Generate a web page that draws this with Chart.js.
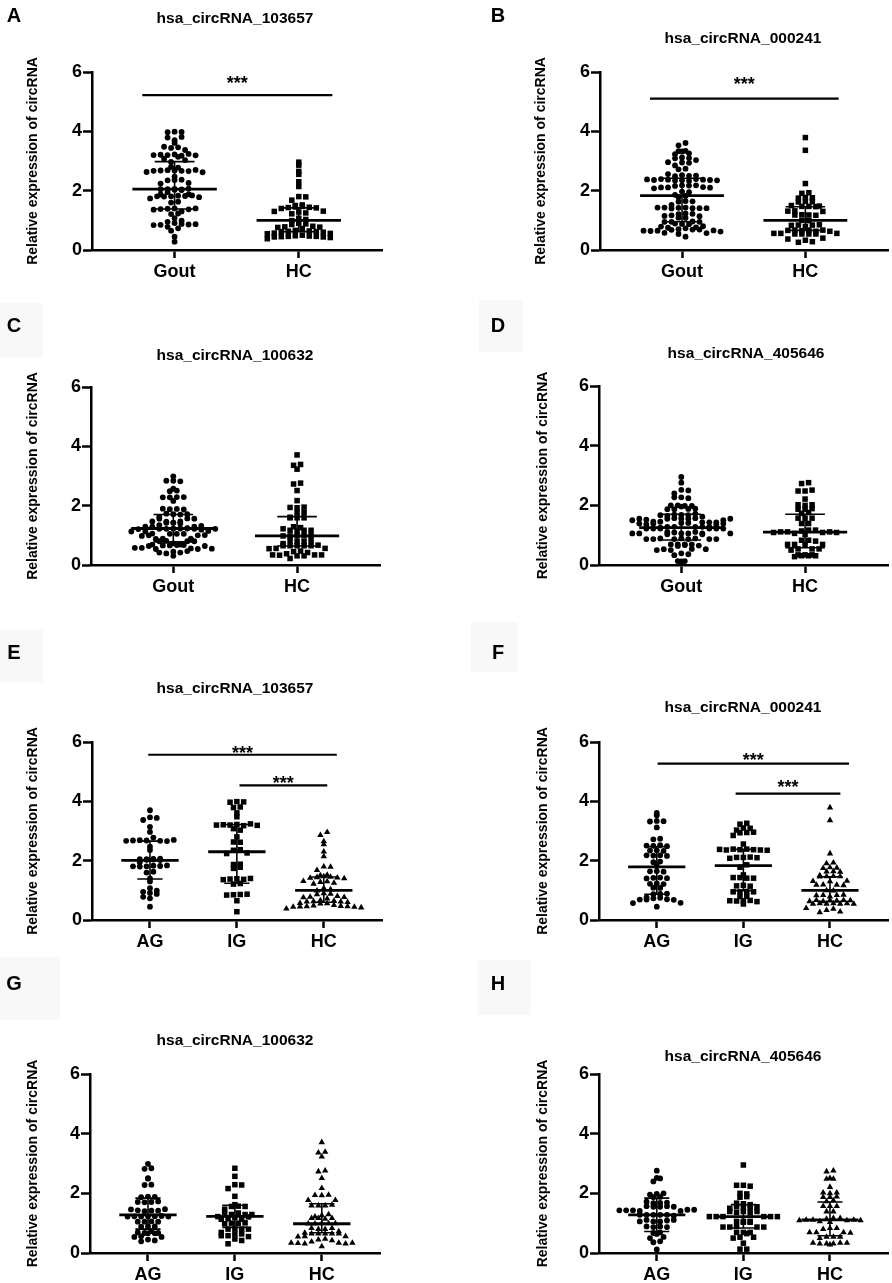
<!DOCTYPE html>
<html>
<head>
<meta charset="utf-8">
<script src="https://cdn.jsdelivr.net/npm/chart.js@4.4.1/dist/chart.umd.min.js"></script>
<style>
  body { margin: 0; background: #fff; width: 892px; height: 1283px; position: relative; overflow: hidden;
         font-family: "Liberation Sans", Arial, sans-serif; }
  canvas { position: absolute; }
  .box { position: absolute; background: #f8f8f8; }
  .letter, .ttl { position: absolute; transform: translate(-50%, -50%); font-weight: bold; line-height: 1; white-space: nowrap; color: #000; }
  .letter { font-size: 20px; }
  .ttl { font-size: 15.5px; }
</style>
</head>
<body>
<script>
const FONT = "'Liberation Sans', Arial, sans-serif";

const yLabel = "Relative expression of circRNA";
const twoGroups = ["Gout", "HC"];
const threeGroups = ["AG", "IG", "HC"];
const titles = ["hsa_circRNA_103657", "hsa_circRNA_000241", "hsa_circRNA_100632", "hsa_circRNA_405646"];

// hsa_circRNA_103657
const ag103657 = [3.70, 3.46, 3.44, 3.37, 3.14, 2.97, 2.78, 2.68, 2.67, 2.69, 2.66, 2.68, 2.70, 2.67, 2.47, 2.36,
  2.06, 2.04, 2.05, 2.07, 2.03, 2.05, 2.02, 1.95, 1.83, 1.81, 1.82, 1.80, 1.84, 1.81, 1.63, 1.60, 1.40, 1.30,
  1.07, 0.99, 0.95, 0.91, 0.88, 0.78, 0.73, 0.45];
const ig103657 = [3.99, 3.98, 3.97, 3.81, 3.79, 3.61, 3.48, 3.22, 3.18, 3.20, 3.24, 3.21, 3.19, 3.20, 3.03, 3.08,
  2.80, 2.62, 2.63, 2.37, 2.35, 2.26, 2.24, 1.88, 1.87, 1.78, 1.74, 1.39, 1.37, 1.38, 1.40, 1.36, 1.23, 1.21,
  0.86, 0.85, 0.87, 0.84, 0.65, 0.28];
const hc103657 = [2.96, 2.86, 2.65, 2.55, 2.30, 2.14, 1.80, 1.79, 1.68, 1.52, 1.50, 1.47, 1.45, 1.44, 1.43, 1.42,
  1.40, 1.31, 1.30, 1.28, 1.25, 1.22, 1.07, 1.03, 0.99, 0.90, 0.88, 0.86, 0.80, 0.78, 0.77, 0.76, 0.72, 0.66,
  0.64, 0.63, 0.62, 0.62, 0.60, 0.57, 0.56, 0.55, 0.50, 0.48, 0.47, 0.46, 0.46, 0.45, 0.44, 0.44, 0.42, 0.38];
const gout103657 = ag103657.concat(ig103657);

// hsa_circRNA_000241
const ag000241 = [3.61, 3.53, 3.34, 3.33, 3.32, 3.12, 2.74, 2.72, 2.52, 2.50, 2.49, 2.51, 2.35, 2.33, 2.34, 2.18,
  2.17, 2.16, 2.18, 1.97, 1.95, 1.82, 1.65, 1.63, 1.64, 1.43, 1.42, 1.41, 1.40, 1.23, 1.21, 1.22, 1.08, 1.09,
  0.88, 0.87, 0.89, 0.76, 0.75, 0.73, 0.70, 0.69, 0.68, 0.69, 0.58, 0.57, 0.45];
const ig000241 = [3.26, 3.23, 3.10, 3.09, 3.03, 2.95, 2.94, 2.96, 2.85, 2.56, 2.39, 2.37, 2.37, 2.39, 2.36, 2.36,
  2.35, 2.38, 2.11, 2.12, 2.11, 2.10, 2.08, 1.86, 1.78, 1.41, 1.43, 1.41, 1.52, 1.43, 1.17, 1.14, 1.15, 0.96,
  0.95, 0.95, 0.95, 0.80, 0.79, 0.65, 0.66, 0.64, 0.62, 0.65, 0.54];
const hc000241 = [3.79, 3.36, 2.24, 1.93, 1.91, 1.77, 1.76, 1.75, 1.64, 1.63, 1.62, 1.48, 1.47, 1.47, 1.50, 1.46,
  1.32, 1.30, 1.31, 1.18, 1.19, 1.17, 1.18, 0.99, 1.00, 0.79, 0.84, 0.84, 0.85, 0.83, 0.67, 0.65, 0.63, 0.67,
  0.67, 0.66, 0.63, 0.56, 0.54, 0.54, 0.56, 0.56, 0.54, 0.54, 0.40, 0.37, 0.33, 0.28, 0.26];
const gout000241 = ag000241.concat(ig000241);

// hsa_circRNA_100632
const ag100632 = [2.99, 2.84, 2.82, 2.51, 2.49, 2.29, 2.28, 1.89, 1.88, 1.87, 1.71, 1.70, 1.73, 1.71, 1.42, 1.40,
  1.42, 1.43, 1.47, 1.46, 1.23, 1.23, 1.22, 1.24, 1.23, 1.22, 1.22, 1.06, 1.05, 1.05, 1.05, 0.89, 0.89, 0.88,
  0.73, 0.67, 0.66, 0.67, 0.69, 0.66, 0.56, 0.54, 0.54, 0.45, 0.42, 0.39];
const ig100632 = [2.84, 2.57, 2.29, 2.28, 2.16, 1.90, 1.57, 1.56, 1.62, 1.56, 1.47, 1.34, 1.29, 1.29, 1.32, 1.29,
  1.19, 1.13, 1.15, 1.21, 1.22, 1.13, 1.00, 1.00, 1.01, 0.98, 0.81, 0.80, 0.80, 0.80, 0.64, 0.64, 0.69, 0.58,
  0.55, 0.58, 0.47, 0.42, 0.31];
const hc100632 = [3.71, 3.39, 3.36, 3.23, 2.76, 2.73, 2.51, 2.17, 1.93, 1.95, 1.94, 1.77, 1.77, 1.59, 1.59, 1.61,
  1.59, 1.26, 1.29, 1.14, 1.17, 1.17, 1.17, 1.22, 0.99, 0.99, 0.98, 0.99, 0.98, 0.80, 0.80, 0.83, 0.83, 0.72,
  0.65, 0.65, 0.65, 0.65, 0.65, 0.67, 0.56, 0.56, 0.55, 0.47, 0.45, 0.42, 0.38, 0.34, 0.31, 0.31, 0.33, 0.34,
  0.34, 0.22];
const gout100632 = ag100632.concat(ig100632);

// hsa_circRNA_405646
const ag405646 = [2.76, 2.52, 2.50, 2.40, 1.98, 2.00, 1.96, 1.88, 1.87, 1.68, 1.67, 1.69, 1.72, 1.55, 1.55, 1.57,
  1.57, 1.55, 1.41, 1.41, 1.43, 1.45, 1.43, 1.45, 1.43, 1.28, 1.28, 1.28, 1.28, 1.25, 1.28, 1.06, 1.06, 1.09,
  1.11, 1.11, 1.06, 0.89, 0.87, 0.87, 0.89, 0.69, 0.67, 0.64, 0.54, 0.50, 0.39, 0.36, 0.12];
const ig405646 = [2.95, 2.27, 2.24, 2.27, 1.98, 2.00, 1.89, 1.87, 1.65, 1.62, 1.67, 1.52, 1.50, 1.55, 1.55, 1.50,
  1.39, 1.34, 1.36, 1.39, 1.39, 1.22, 1.22, 1.22, 1.22, 1.22, 1.22, 1.03, 1.03, 1.06, 1.06, 1.06, 0.89, 0.87,
  0.87, 0.87, 0.87, 0.69, 0.69, 0.65, 0.69, 0.53, 0.53, 0.50, 0.33, 0.13, 0.13];
const hc405646 = [2.76, 2.73, 2.48, 2.51, 2.48, 2.21, 2.00, 2.02, 2.02, 1.87, 1.89, 1.87, 1.76, 1.73, 1.57, 1.57,
  1.57, 1.39, 1.39, 1.17, 1.14, 1.17, 1.03, 1.06, 1.09, 1.11, 1.11, 1.11, 1.09, 1.09, 0.83, 0.83, 0.80, 0.69,
  0.69, 0.67, 0.69, 0.54, 0.54, 0.54, 0.50, 0.31, 0.31, 0.34, 0.31, 0.34, 0.34, 0.28];
const gout405646 = ag405646.concat(ig405646);

// mean and SD range per group, as drawn
const meanA = [2.05, 1.00], errA = [[1.38, 2.98], [0.62, 1.42]];
const meanB = [1.83, 1.00], errB = [[0.95, 2.42], [0.66, 1.46]];
const meanC = [1.23, 0.98], errC = [[0.78, 1.70], [0.64, 1.63]];
const meanD = [1.25, 1.10], errD = [[0.84, 1.70], [0.58, 1.70]];
const meanE = [2.01, 2.30, 1.00], errE = [[1.38, 2.66], [1.24, 3.22], [0.60, 1.45]];
const meanF = [1.79, 1.83, 1.00], errF = [[0.87, 2.47], [0.99, 2.38], [0.62, 1.46]];
const meanG = [1.28, 1.23, 0.98], errG = [[0.80, 1.84], [0.86, 1.60], [0.68, 1.65]];
const meanH = [1.28, 1.22, 1.11], errH = [[0.72, 1.84], [0.84, 1.62], [0.58, 1.71]];

const summaryLines = {
  id: 'summaryLines',
  afterDatasetsDraw(chart, args, o) {
    const { ctx, scales: { x, y } } = chart;
    ctx.save();
    ctx.strokeStyle = '#000';
    ctx.fillStyle = '#000';
    o.means.forEach((m, i) => {
      const c = i + 1;
      const [lo, hi] = o.errs[i];
      ctx.lineWidth = 1.6;
      ctx.beginPath();
      ctx.moveTo(x.getPixelForValue(c), y.getPixelForValue(lo));
      ctx.lineTo(x.getPixelForValue(c), y.getPixelForValue(hi));
      [lo, hi].forEach(v => {
        ctx.moveTo(x.getPixelForValue(c - o.capHalf), y.getPixelForValue(v));
        ctx.lineTo(x.getPixelForValue(c + o.capHalf), y.getPixelForValue(v));
      });
      ctx.stroke();
      ctx.lineWidth = 2.8;
      ctx.beginPath();
      ctx.moveTo(x.getPixelForValue(c - o.meanHalf), y.getPixelForValue(m));
      ctx.lineTo(x.getPixelForValue(c + o.meanHalf), y.getPixelForValue(m));
      ctx.stroke();
    });
    o.bars.forEach(b => {
      ctx.lineWidth = 2.2;
      ctx.beginPath();
      ctx.moveTo(x.getPixelForValue(b.x0), y.getPixelForValue(b.y));
      ctx.lineTo(x.getPixelForValue(b.x1), y.getPixelForValue(b.y));
      ctx.stroke();
      ctx.font = 'bold 18px ' + FONT;
      ctx.textAlign = 'center';
      ctx.textBaseline = 'alphabetic';
      ctx.fillText('***', x.getPixelForValue((b.x0 + b.x1) / 2), y.getPixelForValue(b.star) + 10);
    });
    ctx.restore();
  }
};

// Prism-like rows: values falling in the same pixel band share a row, spread side by side
function spread(chart, groups, gx, gy) {
  const xs = chart.scales.x, ys = chart.scales.y;
  groups.forEach((vals, gi) => {
    const cx = xs.getPixelForValue(gi + 1);
    const rows = new Map();
    vals.forEach((v, i) => {
      const r = Math.round(ys.getPixelForValue(v) / gy);
      if (!rows.has(r)) rows.set(r, []);
      rows.get(r).push(i);
    });
    const pts = [];
    rows.forEach(idx => {
      const n = idx.length;
      idx.forEach((i, j) => {
        // centre outwards, alternating sides, symmetric for odd and even rows
        const off = n % 2
          ? Math.ceil(j / 2) * (j % 2 ? 1 : -1)
          : (Math.floor(j / 2) + 0.5) * (j % 2 ? -1 : 1);
        pts[i] = { x: xs.getValueForPixel(cx + off * gx), y: vals[i] };
      });
    });
    chart.data.datasets[gi].data = pts;
  });
  chart.update('none');
}

const shapes = ['circle', 'rect', 'triangle'];
const radii = { circle: 2.9, rect: 3.9, triangle: 3.7 };

const panels = [
  { id: 'A', left: 0, top: 0, h: 300, axisX: 92, axisR: 382, yTop: 72, yBot: 250, yTitleX: 33,
    titleX: 235, titleY: 18, letterX: 14, letterY: 15, title: titles[0], names: twoGroups,
    groups: [gout103657, hc103657], styles: ['circle', 'rect'], means: meanA, errs: errA,
    bars: [{ x0: 0.74, x1: 2.27, y: 5.22, star: 5.75 }] },
  { id: 'B', left: 446, top: 0, h: 300, axisX: 600, axisR: 889, yTop: 72, yBot: 250, yTitleX: 541,
    titleX: 743, titleY: 38, letterX: 498, letterY: 15, title: titles[1], names: twoGroups,
    groups: [gout000241, hc000241], styles: ['circle', 'rect'], means: meanB, errs: errB,
    bars: [{ x0: 0.74, x1: 2.27, y: 5.10, star: 5.72 }] },
  { id: 'C', left: 0, top: 300, h: 310, axisX: 91, axisR: 380, yTop: 387, yBot: 565, yTitleX: 33,
    titleX: 235, titleY: 355, letterX: 14, letterY: 325, title: titles[2], names: twoGroups,
    groups: [gout100632, hc100632], styles: ['circle', 'rect'], means: meanC, errs: errC, bars: [],
    box: [0, 303, 43, 55] },
  { id: 'D', left: 446, top: 300, h: 310, axisX: 599, axisR: 889, yTop: 386, yBot: 565, yTitleX: 543,
    titleX: 746, titleY: 353, letterX: 498, letterY: 325, title: titles[3], names: twoGroups,
    groups: [gout405646, hc405646], styles: ['circle', 'rect'], means: meanD, errs: errD, bars: [],
    box: [479, 300, 44, 52] },
  { id: 'E', left: 0, top: 620, h: 330, axisX: 92, axisR: 382, yTop: 742, yBot: 920, yTitleX: 33,
    titleX: 235, titleY: 688, letterX: 14, letterY: 652, title: titles[0], names: threeGroups,
    groups: [ag103657, ig103657, hc103657], styles: shapes, means: meanE, errs: errE,
    bars: [{ x0: 0.98, x1: 3.15, y: 5.57, star: 5.78 }, { x0: 2.03, x1: 3.04, y: 4.54, star: 4.74 }],
    box: [0, 630, 43, 52] },
  { id: 'F', left: 446, top: 620, h: 330, axisX: 599, axisR: 889, yTop: 742, yBot: 920, yTitleX: 543,
    titleX: 743, titleY: 707, letterX: 498, letterY: 652, title: titles[1], names: threeGroups,
    groups: [ag000241, ig000241, hc000241], styles: shapes, means: meanF, errs: errF,
    bars: [{ x0: 1.01, x1: 3.22, y: 5.27, star: 5.53 }, { x0: 1.91, x1: 3.12, y: 4.26, star: 4.62 }],
    box: [471, 622, 47, 50] },
  { id: 'G', left: 0, top: 950, h: 333, axisX: 90, axisR: 380, yTop: 1074, yBot: 1253, yTitleX: 33,
    titleX: 235, titleY: 1040, letterX: 14, letterY: 983, title: titles[2], names: threeGroups,
    groups: [ag100632, ig100632, hc100632], styles: shapes, means: meanG, errs: errG, bars: [],
    box: [0, 957, 60, 63] },
  { id: 'H', left: 446, top: 950, h: 333, axisX: 599, axisR: 889, yTop: 1074, yBot: 1253, yTitleX: 543,
    titleX: 743, titleY: 1056, letterX: 498, letterY: 983, title: titles[3], names: threeGroups,
    groups: [ag405646, ig405646, hc405646], styles: shapes, means: meanH, errs: errH, bars: [],
    box: [478, 960, 53, 55] }
];

function addDiv(cls, text, x, y) {
  const d = document.createElement('div');
  d.className = cls;
  d.textContent = text;
  d.style.left = x + 'px';
  d.style.top = y + 'px';
  document.body.appendChild(d);
}

const xH = 30;
panels.forEach(p => {
  if (p.box) {
    const b = document.createElement('div');
    b.className = 'box';
    Object.assign(b.style, { left: p.box[0] + 'px', top: p.box[1] + 'px', width: p.box[2] + 'px', height: p.box[3] + 'px' });
    document.body.appendChild(b);
  }
  const cv = document.createElement('canvas');
  cv.width = 446;
  cv.height = p.h;
  cv.style.left = p.left + 'px';
  cv.style.top = p.top + 'px';
  document.body.appendChild(cv);

  const n = p.names.length;
  const yW = p.axisX - p.yTitleX + 8.4;
  const tickFont = { family: FONT, size: 18, weight: 'bold' };

  const chart = new Chart(cv, {
    type: 'scatter',
    data: {
      datasets: p.groups.map((vals, gi) => ({
        data: vals.map(v => ({ x: gi + 1, y: v })),
        pointStyle: p.styles[gi],
        pointRadius: radii[p.styles[gi]],
        pointBorderWidth: 0,
        backgroundColor: '#000',
        borderColor: '#000',
        clip: false
      }))
    },
    options: {
      responsive: false,
      animation: false,
      layout: {
        padding: {
          left: p.yTitleX - p.left - 8.4,
          top: p.yTop - p.top,
          right: p.left + 446 - p.axisR,
          bottom: p.h - (p.yBot - p.top) - xH
        }
      },
      plugins: {
        legend: { display: false },
        tooltip: { enabled: false },
        summaryLines: {
          means: p.means, errs: p.errs, bars: p.bars,
          meanHalf: n === 2 ? 0.34 : 0.33,
          capHalf: n === 2 ? 0.16 : 0.145
        }
      },
      scales: {
        x: {
          type: 'linear',
          min: n === 2 ? 0.335 : 0.333,
          max: n === 2 ? 2.67 : 3.67,
          afterBuildTicks: s => { s.ticks = p.names.map((_, i) => ({ value: i + 1 })); },
          afterFit: s => { s.height = xH; },
          ticks: {
            callback: (v, i) => p.names[i],
            autoSkip: false, maxRotation: 0, color: '#000', font: tickFont, padding: 3
          },
          grid: { drawOnChartArea: false, drawTicks: true, tickLength: 8, tickWidth: 2.5, tickColor: '#000' },
          border: { display: true, color: '#000', width: 2.5 }
        },
        y: {
          min: 0, max: 6,
          afterFit: s => { s.width = yW; },
          ticks: { stepSize: 2, color: '#000', font: tickFont, padding: 1 },
          grid: { drawOnChartArea: false, drawTicks: true, tickLength: 9, tickWidth: 2.5, tickColor: '#000' },
          border: { display: true, color: '#000', width: 2.5 },
          title: { display: true, text: yLabel, color: '#000', padding: 0,
                   font: { family: FONT, size: 14, weight: 'bold' } }
        }
      }
    },
    plugins: [summaryLines]
  });
  spread(chart, p.groups, n === 2 ? 7 : 6.8, 5.5);

  addDiv('letter', p.id, p.letterX, p.letterY);
  addDiv('ttl', p.title, p.titleX, p.titleY);
});
</script>
</body>
</html>
